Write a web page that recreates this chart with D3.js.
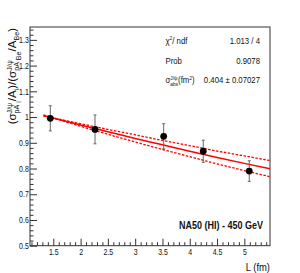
<!DOCTYPE html>
<html>
<head>
<meta charset="utf-8">
<script src="https://cdn.jsdelivr.net/npm/d3@7"></script>
<style>
  body { margin: 0; background: #fff; }
  svg { display: block; }
  text { font-family: "Liberation Sans", Arial, sans-serif; fill: #111; }
</style>
</head>
<body>
<svg id="chart"></svg>
<script>
// Data points: L (fm) vs normalised ratio
const pathL = [1.445, 2.264, 3.522, 4.247, 5.09];
const ratio = [0.995, 0.952, 0.925, 0.867, 0.790];
const ratioErr = [0.049, 0.056, 0.049, 0.043, 0.040];

// Fit curve and its +/- error band
const fitL = [1.32, 2.0, 2.5, 3.0, 3.5, 4.0, 4.5, 5.0, 5.47];
const fitMid = [1.006, 0.969, 0.943, 0.917, 0.892, 0.867, 0.843, 0.820, 0.799];
const fitUp = [1.005, 0.974, 0.952, 0.931, 0.909, 0.889, 0.868, 0.849, 0.831];
const fitLow = [1.008, 0.964, 0.933, 0.903, 0.874, 0.846, 0.818, 0.792, 0.768];

// Ticks
const xTicks = [1.5, 2, 2.5, 3, 3.5, 4, 4.5, 5];
const xTickLabels = ["1.5", "2", "2.5", "3", "3.5", "4", "4.5", "5"];
const yTicks = [0.5, 0.6, 0.7, 0.8, 0.9, 1.0, 1.1, 1.2, 1.3];
const yTickLabels = ["0.5", "0.6", "0.7", "0.8", "0.9", "1", "1.1", "1.2", "1.3"];

// Stats box values
const statsValues = ["1.013 / 4", "0.9078", "0.404 \u00b1 0.07027"];

const width = 300, height = 273;
const frame = { left: 30, top: 27, right: 270, bottom: 245.7 };
const narrow = 0.82; // ROOT's Helvetica renders condensed

const svg = d3.select("#chart")
    .attr("width", width)
    .attr("height", height);

const x = d3.scaleLinear().domain([1.073, 5.47]).range([frame.left, frame.right]);
const y = d3.scaleLinear().domain([0.5, 1.35]).range([frame.bottom, frame.top]);

// Minor ticks
const xMinor = d3.range(11, 55).map(d => d / 10).filter(d => !xTicks.some(t => Math.abs(t - d) < 1e-6));
const yMinor = d3.range(25, 68).map(d => d / 50).filter(d => !yTicks.some(t => Math.abs(t - d) < 1e-6));

svg.append("g")
    .attr("transform", `translate(0,${frame.bottom})`)
    .call(d3.axisBottom(x).tickValues(xMinor).tickSize(-3.5).tickFormat(""))
    .call(g => g.select(".domain").remove())
    .call(g => g.selectAll("line").attr("stroke", "#333"));

svg.append("g")
    .attr("transform", `translate(${frame.left},0)`)
    .call(d3.axisLeft(y).tickValues(yMinor).tickSize(-3.5).tickFormat(""))
    .call(g => g.select(".domain").remove())
    .call(g => g.selectAll("line").attr("stroke", "#333"));

// Major axes
svg.append("g")
    .attr("transform", `translate(0,${frame.bottom})`)
    .call(d3.axisBottom(x).tickValues(xTicks).tickSize(-7).tickSizeOuter(0).tickPadding(3)
        .tickFormat((d, i) => xTickLabels[i]))
    .call(g => g.select(".domain").remove())
    .call(g => g.selectAll("line").attr("stroke", "#333"))
    .call(g => g.selectAll("text").attr("font-size", 8.5).attr("fill", "#111")
        .attr("font-family", '"Liberation Sans", Arial, sans-serif')
        .attr("transform", `scale(${narrow},1)`));

svg.append("g")
    .attr("transform", `translate(${frame.left},0)`)
    .call(d3.axisLeft(y).tickValues(yTicks).tickSize(-7).tickSizeOuter(0).tickPadding(1.5)
        .tickFormat((d, i) => yTickLabels[i]))
    .call(g => g.select(".domain").remove())
    .call(g => g.selectAll("line").attr("stroke", "#333"))
    .call(g => g.selectAll("text").attr("font-size", 8.5).attr("fill", "#111")
        .attr("font-family", '"Liberation Sans", Arial, sans-serif')
        .attr("transform", `scale(${narrow},1)`));

// Frame
svg.append("rect")
    .attr("x", frame.left).attr("y", frame.top)
    .attr("width", frame.right - frame.left)
    .attr("height", frame.bottom - frame.top)
    .attr("fill", "none")
    .attr("stroke", "#333")
    .attr("stroke-width", 1);

// Fit curves
const fitLine = vals => d3.line()
    .x((d, i) => x(fitL[i]))
    .y((d, i) => y(vals[i]))
    .curve(d3.curveMonotoneX)(vals);

svg.append("path").attr("d", fitLine(fitMid))
    .attr("fill", "none").attr("stroke", "#ff0000").attr("stroke-width", 1.5);
[fitUp, fitLow].forEach(v => {
    svg.append("path").attr("d", fitLine(v))
        .attr("fill", "none").attr("stroke", "#ff0000").attr("stroke-width", 1.3)
        .attr("stroke-dasharray", "2.5,1.5");
});

// Error bars
const pts = pathL.map((l, i) => ({ l, r: ratio[i], e: ratioErr[i] }));
const eb = svg.append("g").attr("stroke", "#666").attr("stroke-width", 1);
eb.selectAll(".ebar").data(pts).enter().append("line")
    .attr("x1", d => x(d.l)).attr("x2", d => x(d.l))
    .attr("y1", d => y(d.r + d.e)).attr("y2", d => y(d.r - d.e));
eb.selectAll(".capT").data(pts).enter().append("line")
    .attr("x1", d => x(d.l) - 1.5).attr("x2", d => x(d.l) + 1.5)
    .attr("y1", d => y(d.r + d.e)).attr("y2", d => y(d.r + d.e));
eb.selectAll(".capB").data(pts).enter().append("line")
    .attr("x1", d => x(d.l) - 1.5).attr("x2", d => x(d.l) + 1.5)
    .attr("y1", d => y(d.r - d.e)).attr("y2", d => y(d.r - d.e));

svg.selectAll(".pt").data(pts).enter().append("circle")
    .attr("cx", d => x(d.l)).attr("cy", d => y(d.r))
    .attr("r", 3.4).attr("fill", "#000");

// Rich text helper: segments laid out left to right; "stack" pieces share x with previous
function richText(parent, segs, size) {
    const g = parent.append("g");
    let cx = 0, prevX = 0, prevW = 0;
    segs.forEach(s => {
        const fs = s.small ? size * 0.62 : size;
        const px = s.stack ? prevX : cx;
        const t = g.append("text")
            .attr("x", px)
            .attr("y", s.dy || 0)
            .attr("font-size", fs)
            .text(s.t);
        const w = t.node().getComputedTextLength();
        if (s.stack) {
            cx = prevX + Math.max(prevW, w);
        } else {
            prevX = px; prevW = w; cx = px + w;
        }
    });
    return { g, width: cx };
}

// Y axis title
const yTitle = [
    { t: "(\u03c3" },
    { t: "J/\u03c8", small: true, dy: -4.5 },
    { t: "pA", small: true, dy: 3, stack: true },
    { t: "i", small: true, dy: 5 },
    { t: "/A" },
    { t: "i", small: true, dy: 3 },
    { t: ")/(\u03c3" },
    { t: "J/\u03c8", small: true, dy: -4.5 },
    { t: "pA", small: true, dy: 3, stack: true },
    { t: "Be", small: true, dy: 5 },
    { t: " /A" },
    { t: "Be", small: true, dy: 3 },
    { t: ")" }
];
const yt = svg.append("g").attr("transform", "translate(16,28) rotate(-90)");
const ytr = richText(yt, yTitle, 11.5);
ytr.g.attr("transform", `translate(${-ytr.width},0)`);

// X axis title
svg.append("g").attr("transform", `translate(270,271) scale(${narrow},1)`)
    .append("text")
    .attr("text-anchor", "end")
    .attr("font-size", 11.5)
    .text("L (fm)");

// Stats box
const statsLabels = [
    [{ t: "\u03c7" }, { t: "2", small: true, dy: -3.5 }, { t: " / ndf" }],
    [{ t: "Prob" }],
    [{ t: "\u03c3" }, { t: "J/\u03c8", small: true, dy: -3.5 },
     { t: "abs", small: true, dy: 2.5, stack: true }, { t: " (fm" },
     { t: "2", small: true, dy: -3.5 }, { t: ")" }]
];
const rowY = [43.5, 63.5, 83];
statsLabels.forEach((segs, i) => {
    const gg = svg.append("g").attr("transform", `translate(165.5,${rowY[i]}) scale(${narrow},1)`);
    richText(gg, segs, 9.5);
    svg.append("g").attr("transform", `translate(260,${rowY[i]}) scale(${narrow},1)`)
        .append("text")
        .attr("text-anchor", "end")
        .attr("font-size", 9.5)
        .text(statsValues[i]);
});

// Experiment label
svg.append("g").attr("transform", `translate(263,228.5) scale(0.9,1)`)
    .append("text")
    .attr("text-anchor", "end")
    .attr("font-size", 10)
    .attr("font-weight", "bold")
    .text("NA50 (HI) - 450 GeV");
</script>
</body>
</html>
